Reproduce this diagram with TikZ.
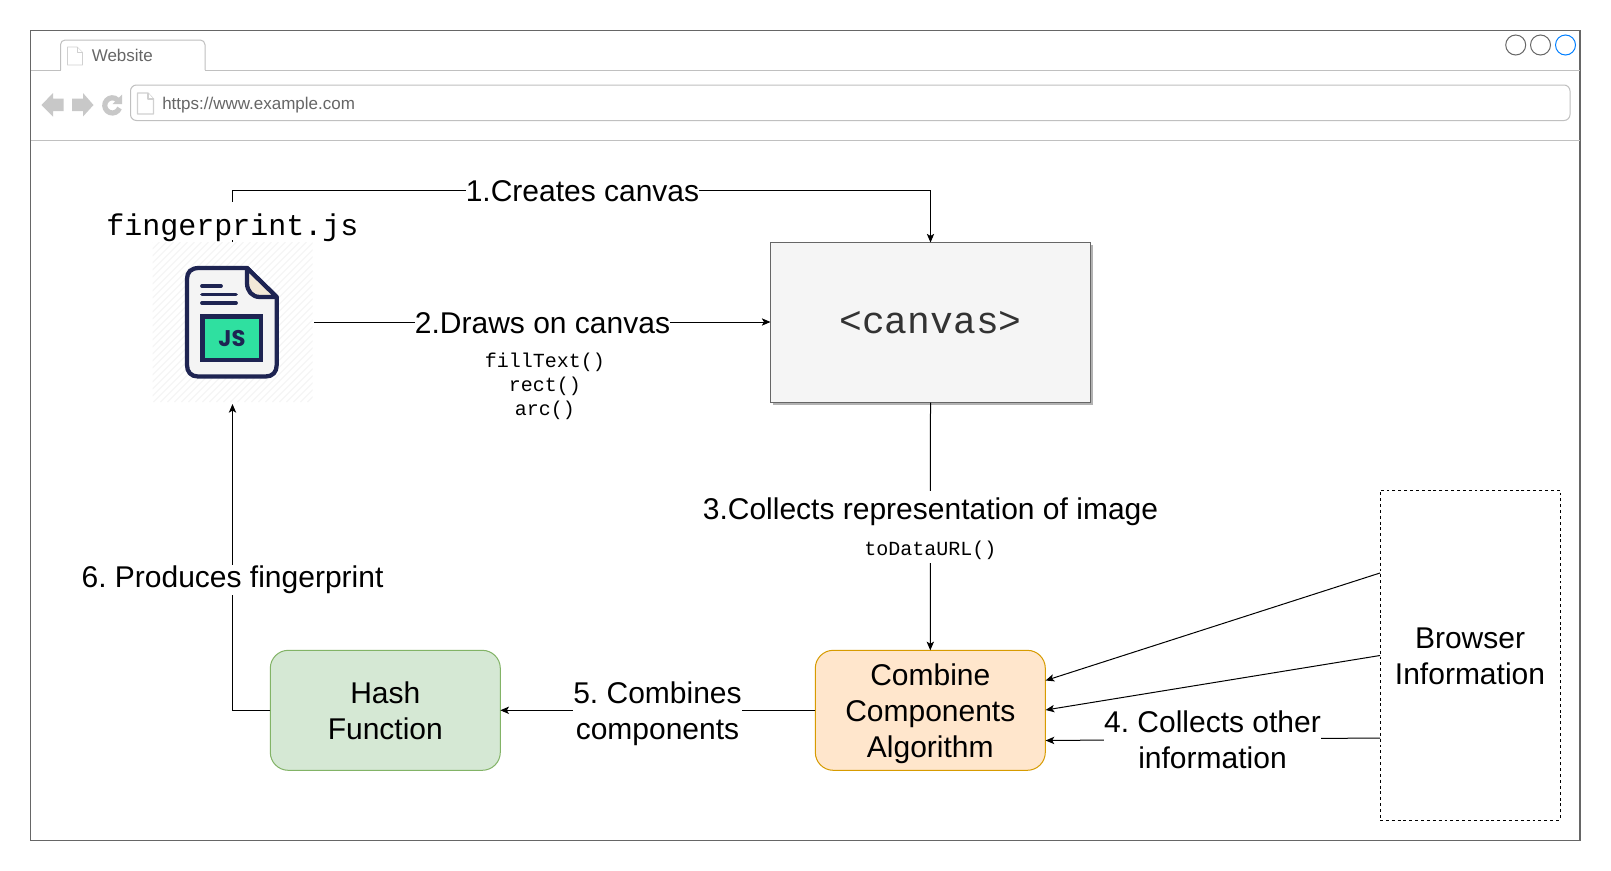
\documentclass[tikz,border=0pt]{standalone}
\usepackage{fontspec}
\setmainfont{Liberation Sans}
\setmonofont{Liberation Mono}
\newfontfamily\jsfont{Poppins}
\frenchspacing
\usetikzlibrary{arrows.meta,positioning}
\definecolor{frameC}{HTML}{666666}
\definecolor{chromeC}{HTML}{C0C0C0}
\definecolor{navC}{HTML}{C8C8C8}
\definecolor{inkC}{HTML}{1E2452}
\definecolor{greenF}{HTML}{D5E8D4}
\definecolor{greenD}{HTML}{82B366}
\definecolor{orangeF}{HTML}{FFE6CC}
\definecolor{orangeD}{HTML}{D79B00}
\definecolor{canvasF}{HTML}{F5F5F5}
\definecolor{foldF}{HTML}{F3E9D8}
\definecolor{sheetF}{HTML}{F4F4F4}
\newcommand{\bigfont}{\fontsize{22.5pt}{27pt}\selectfont}
\tikzset{
  conn/.style={draw=black,line width=0.75pt},
  arrowconn/.style={conn,-{Stealth[length=6.5pt,width=5.5pt,inset=1.6pt]}},
  flowlabel/.style={fill=white,inner xsep=0pt,inner ysep=0.6pt,align=center,font=\bigfont},
  boxtext/.style={inner sep=0pt,outer sep=0pt,align=center,font=\bigfont,text=black},
  codetext/.style={inner sep=0pt,align=center,font=\ttfamily\fontsize{15pt}{18pt}\selectfont},
  chrome/.style={draw=chromeC,line width=0.75pt},
  pageicon/.style={draw=chromeC!75,fill=white,line width=0.9pt,line join=round},
}
\begin{document}
\begin{tikzpicture}[x=0.75pt,y=-0.75pt]
\useasboundingbox (0,0) rectangle (1611,871);
\fill[white] (0,0) rectangle (1611,871);
% browser window
\draw[draw=frameC,line width=0.8pt,fill=white] (30.5,30.5) rectangle (1580,840.5);
\draw[chrome] (30.5,70) -- (60.5,70);
\draw[chrome] (205,70) -- (1580,70);
\draw[chrome,rounded corners=3.5pt] (60.5,70) -- (60.5,40) -- (205,40) -- (205,70);
\draw[chrome] (30.5,140) -- (1580,140);
\draw[chrome,rounded corners=4.5pt] (130.5,85) rectangle (1570,120.5);
\draw[pageicon,line width=0.6pt] (67.5,47) -- (77,47) -- (82.5,52.5) -- (82.5,65) -- (67.5,65) -- cycle;
\draw[pageicon,line width=0.6pt] (77,47) -- (77,52.5) -- (82.5,52.5);
\draw[pageicon] (137.5,93) -- (148,93) -- (153.5,99) -- (153.5,114) -- (137.5,114) -- cycle;
\draw[pageicon] (148,93) -- (148,99) -- (153.5,99);
\node[anchor=base west,inner sep=0pt,text=frameC,font=\fontsize{12.75pt}{15pt}\selectfont] (tabtitle) at (91.5,61) {Website};
\node[anchor=base west,inner sep=0pt,text=frameC,font=\fontsize{12.75pt}{15pt}\selectfont] (urltext) at (162,109) {https://www.example.com};
% nav icons
\fill[navC] (41.5,105) -- (53,93) -- (53,98.5) -- (63.5,98.5) -- (63.5,111) -- (53,111) -- (53,116.5) -- cycle;
\fill[navC] (93.5,105) -- (83,93) -- (83,98.5) -- (72,98.5) -- (72,111) -- (83,111) -- (83,116.5) -- cycle;
\draw[navC,line width=3.9pt] (119.5,108) arc (-20:-318:5.7pt);
\fill[navC] (122,94.5) -- (122,104) -- (112.5,104) -- cycle;
% window buttons
\draw[frameC,line width=0.75pt] (1515.7,45) circle (7.5pt);
\draw[frameC,line width=0.75pt] (1540.5,45) circle (7.5pt);
\draw[color={rgb,255:red,0;green,127;blue,255},line width=0.75pt] (1565.5,45) circle (7.5pt);
% script icon background
\begin{scope}
\clip (152.5,242) rectangle (312.5,402);
\foreach \i in {0,7,...,322}{
  \draw[color=black!4.5,line width=0.6pt] (152.5+\i-160,402) -- (152.5+\i,242);
}
\end{scope}
\node[minimum size=120pt,inner sep=0pt,outer sep=0pt] (icon) at (232.5,322) {};
% file glyph
\draw[inkC,line width=3.2pt,fill=sheetF,line join=round]
  (199,268) -- (247,268) -- (276.7,297) -- (276.7,365)
  .. controls (276.7,372) and (272.7,376.5) .. (265.7,376.5) -- (198,376.5)
  .. controls (191,376.5) and (187,372) .. (187,365) -- (187,279)
  .. controls (187,272) and (191,268) .. (199,268) -- cycle;
\draw[inkC,line width=3.2pt,fill=foldF,line join=round]
  (247,268) -- (276.7,297) -- (260,297) .. controls (252,297) and (247,291) .. (247,283) -- cycle;
\draw[inkC,line width=2.8pt,line cap=round] (202,286) -- (221,286);
\draw[inkC,line width=2.8pt,line cap=round] (202,294.5) -- (236,294.5);
\draw[inkC,line width=2.8pt,line cap=round] (202,303) -- (236,303);
\draw[inkC,line width=3.2pt,fill={rgb,255:red,47;green,224;blue,160}] (202.5,316.5) rectangle (261,360);
\node[inner sep=0pt,text=inkC,font=\jsfont\bfseries\fontsize{17pt}{17pt}\selectfont] (jsmark) at (232,339) {JS};
% boxes
\fill[color=black!30] (772.5,244.5) rectangle (1092.5,404.5);
\node[draw=frameC,fill=canvasF,line width=0.8pt,minimum width=240pt,minimum height=120pt,inner sep=0pt,outer sep=0pt,text={rgb,255:red,51;green,51;blue,51},font=\ttfamily\fontsize{28.5pt}{30pt}\selectfont] (canvas) at (930.5,322.5) {\raisebox{-1.2pt}{<canvas>}};
\node[draw=orangeD,fill=orangeF,line width=0.75pt,rounded corners=13.5pt,minimum width=172.5pt,minimum height=90pt,boxtext] (combine) at (930.3,710.3) {\rule{0pt}{22pt}Combine\\Components\\Algorithm};
\node[draw=greenD,fill=greenF,line width=0.75pt,rounded corners=13.5pt,minimum width=172.5pt,minimum height=90pt,boxtext] (hash) at (385.3,710.3) {\rule{0pt}{17.6pt}Hash\\Function};
\node[draw=black,dashed,dash pattern=on 2.2pt off 2.2pt,line width=0.75pt,minimum width=135pt,minimum height=247.5pt,boxtext] (browser) at (1470,655) {\rule{0pt}{17.6pt}Browser\\Information};
% free ends
\coordinate (bi1) at (1380,573);
\coordinate (bi2) at (1380,655.5);
\coordinate (bi3) at (1380,738);
\coordinate (ci1) at (1045.6,680.5);
\coordinate (ci2) at (1045.6,710);
\coordinate (ci3) at (1045.6,740.5);
\coordinate (topbend) at (232.5,190);
\coordinate (iconfeed) at (232.5,404);
\coordinate (iconout) at (314,322);
% connectors
\draw[arrowconn] (icon.north) -- (topbend) -| (canvas.north);
\draw[arrowconn] (iconout) -- (iconout -| canvas.west);
\draw[arrowconn] (canvas.south) -- (combine.north);
\draw[arrowconn] (bi1) -- (ci1);
\draw[arrowconn] (bi2) -- (ci2);
\draw[arrowconn] (bi3) -- (ci3);
\draw[arrowconn] (combine.west) -- (hash.east);
\draw[arrowconn] (hash.west) -| (iconfeed);
% labels
\node[fill=white,inner sep=0pt,anchor=base,text height=24.75pt,text depth=3.75pt,font=\ttfamily\fontsize{22.5pt}{27pt}\selectfont] (fpname) at (232.5,235) {fingerprint.js};
\node[flowlabel] (l1) at (582.5,191) {1.Creates canvas};
\node[flowlabel] (l2) at (542.5,323) {2.Draws on canvas};
\node[codetext] (l2code) at (545,386) {fillText()\\rect()\\arc()};
\node[flowlabel,anchor=north,inner ysep=0pt] (l3) at (930.5,491) {\rule{0pt}{21pt}3.Collects representation of image\\[0.3pt]{\ttfamily\fontsize{15pt}{18pt}\selectfont toDataURL()}\rule[-5.5pt]{0pt}{5.5pt}};
\node[flowlabel] (l4) at (1212.5,740) {4. Collects other\\information};
\node[flowlabel] (l5) at (657.5,713.7) {5. Combines\\components};
\node[flowlabel] (l6) at (232.5,580) {6. Produces fingerprint};
\end{tikzpicture}
\end{document}
